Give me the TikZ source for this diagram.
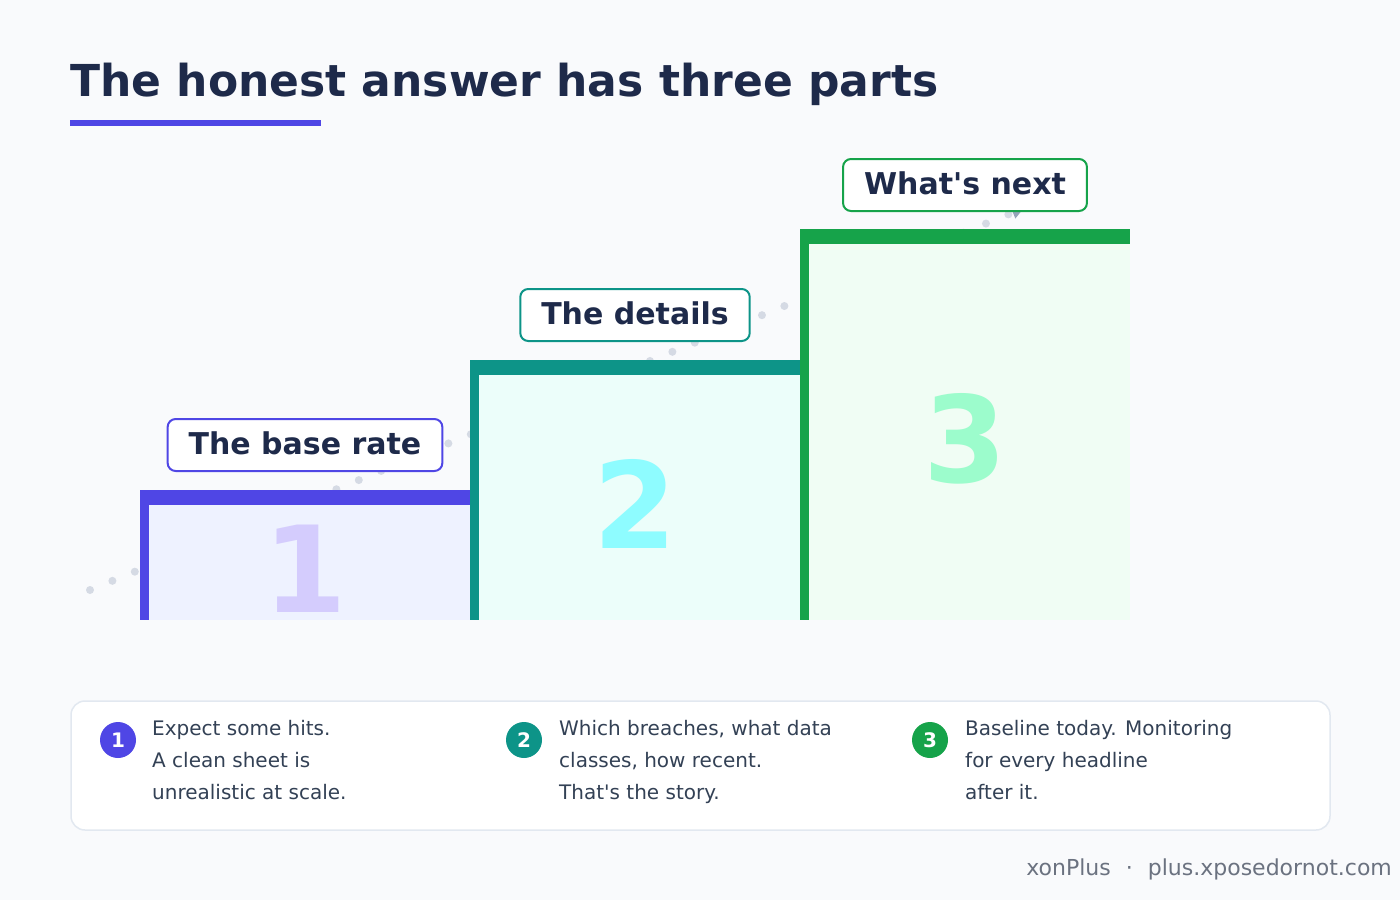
\documentclass[tikz,border=0pt]{standalone}
\usepackage{fontspec}
\setmainfont{DejaVu Sans}[Ligatures=TeXOff]
\usepackage{tikz}
\usetikzlibrary{arrows.meta, positioning}
\usepackage{xcolor}
\definecolor{pagebg}{HTML}{F9FAFC}
\definecolor{ink}{HTML}{1E2A4A}
\definecolor{bodyink}{HTML}{334155}
\definecolor{mutedink}{HTML}{6B7280}
\definecolor{cardline}{HTML}{E2E8F0}
\definecolor{dotgrey}{HTML}{D5DAE4}
\definecolor{tipgrey}{HTML}{94A3B8}
\definecolor{baseA}{HTML}{4F46E5}
\definecolor{baseB}{HTML}{0D9488}
\definecolor{baseC}{HTML}{16A34A}
\definecolor{fillA}{HTML}{EEF2FF}
\definecolor{fillB}{HTML}{ECFEFA}
\definecolor{fillC}{HTML}{F0FDF4}
\definecolor{digitA}{HTML}{D4CCFD}
\definecolor{digitB}{HTML}{8EFCFF}
\definecolor{digitC}{HTML}{9CFCCC}

\begin{document}
\begin{tikzpicture}[x=1pt, y=-1pt,
  every node/.style={font=\fontsize{20}{32}\selectfont},
  steplabel/.style={draw, line width=2pt, rounded corners=8pt, fill=white, text=ink,
    font=\fontsize{30}{36}\selectfont\bfseries, minimum height=52pt,
    inner xsep=21pt, text height=22pt, text depth=3pt},
  bignum/.style={font=\fontsize{120}{120}\selectfont\bfseries, inner sep=0pt, anchor=base},
  badge/.style={circle, minimum size=36pt, inner sep=0pt, text=white,
    font=\fontsize{20}{20}\selectfont\bfseries},
  note/.style={anchor=north west, align=left, inner sep=0pt, text=bodyink}]
  % page
  \fill[pagebg] (0,0) rectangle (1400,900);

  % heading
  \node[anchor=base west, inner sep=0pt, text=ink, font=\fontsize{44}{52}\selectfont\bfseries]
       (title) at (70,96) {The honest answer has three parts};
  \fill[baseA] (70,120) rectangle (321,126);

  % dotted trail behind the steps
  \coordinate (trail start) at (90,590);
  \coordinate (trail end) at (1024,208);
  \draw[dotgrey, line width=8pt, line cap=round, dash pattern=on 0pt off 24.2pt,
        -{Triangle[length=12pt, width=12pt, color=tipgrey]}] (trail start) -- (trail end);

  % step 1
  \fill[fillA] (140,490) rectangle (470,620);
  \fill[baseA] (140,490) rectangle (470,505);
  \fill[baseA] (140,490) rectangle (149,620);
  \node[bignum, text=digitA] (num1) at (305,612) {1};

  % step 2
  \fill[fillB] (470,360) rectangle (805,620);
  \fill[baseB] (470,360) rectangle (805,375);
  \fill[baseB] (470,360) rectangle (479,620);
  \node[bignum, text=digitB] (num2) at (635,548) {2};

  % step 3
  \fill[fillC] (800,229) rectangle (1130,620);
  \fill[baseC] (800,229) rectangle (1130,244);
  \fill[baseC] (800,229) rectangle (809,620);
  \node[bignum, text=digitC] (num3) at (965,482) {3};

  % step labels
  \node[steplabel, draw=baseA] (label1) at (305,445) {The base rate};
  \node[steplabel, draw=baseB] (label2) at (635,315) {The details};
  \node[steplabel, draw=baseC] (label3) at (965,185) {What's next};

  % legend card
  \draw[cardline, line width=1.5pt, fill=white, rounded corners=14pt] (71,701) rectangle (1330,830);
  \node[badge, fill=baseA] (badge1) at (118,740) {1};
  \node[note] (note1) at (152,720) {Expect some hits.\\A clean sheet is\\unrealistic at scale.};
  \node[badge, fill=baseB] (badge2) at (524,740) {2};
  \node[note] (note2) at (559,720) {Which breaches, what data\\classes, how recent.\\That's the story.};
  \node[badge, fill=baseC] (badge3) at (930,740) {3};
  \node[note] (note3) at (965,720) {Baseline today. Monitoring\\for every headline\\after it.};

  % footer
  \node[anchor=base east, inner sep=0pt, text=mutedink, font=\fontsize{22}{26}\selectfont]
       (footer) at (1392,875) {xonPlus\hspace{15pt}·\hspace{15pt}plus.xposedornot.com};
\end{tikzpicture}
\end{document}
